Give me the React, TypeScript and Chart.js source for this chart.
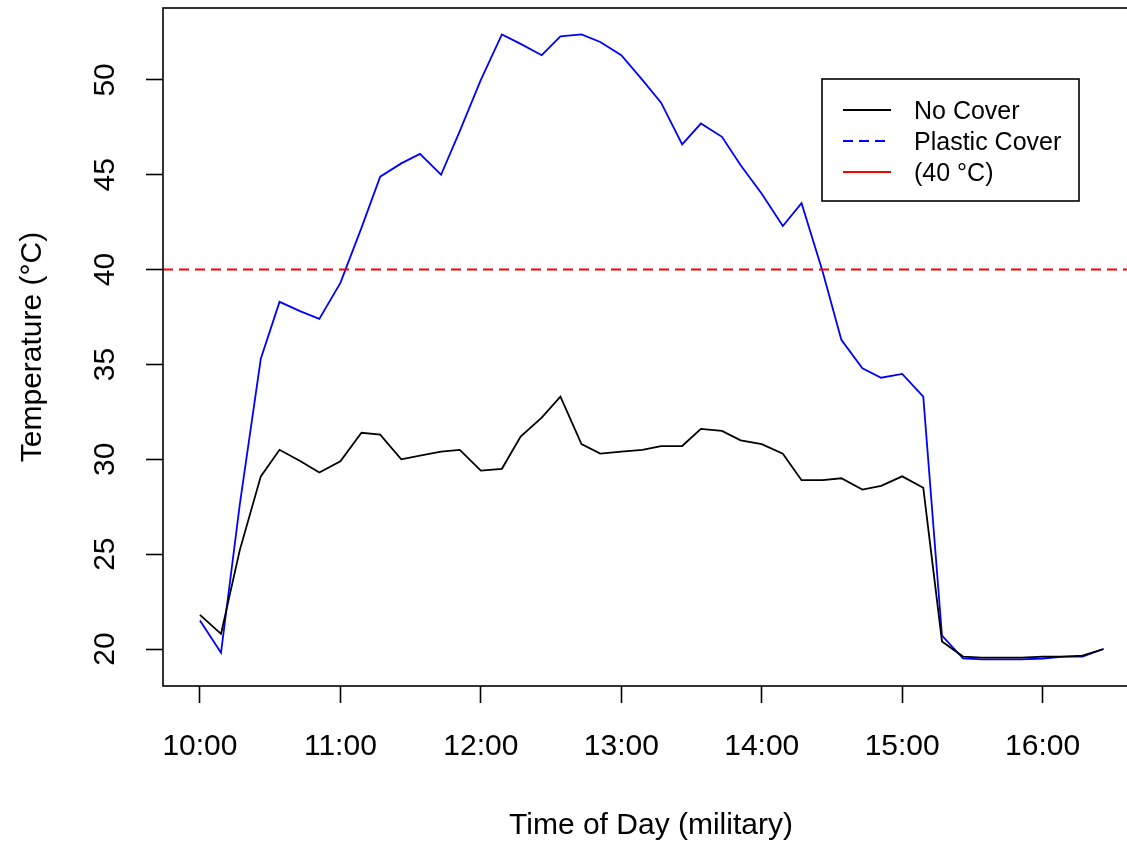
import React, { useEffect, useRef } from 'react';
import { Chart, registerables } from 'chart.js';

Chart.register(...registerables);

// ---- data ----
const TIMES = [
  '10:00', '10:09', '10:17', '10:26', '10:34', '10:43', '10:51',
  '11:00', '11:09', '11:17', '11:26', '11:34', '11:43', '11:51',
  '12:00', '12:09', '12:17', '12:26', '12:34', '12:43', '12:51',
  '13:00', '13:09', '13:17', '13:26', '13:34', '13:43', '13:51',
  '14:00', '14:09', '14:17', '14:26', '14:34', '14:43', '14:51',
  '15:00', '15:09', '15:17', '15:26', '15:34', '15:43', '15:51',
  '16:00', '16:09', '16:17', '16:26',
];

const NO_COVER = [
  21.8, 20.8, 25.2, 29.1, 30.5, 29.9, 29.3,
  29.9, 31.4, 31.3, 30.0, 30.2, 30.4, 30.5,
  29.4, 29.5, 31.2, 32.2, 33.3, 30.8, 30.3,
  30.4, 30.5, 30.7, 30.7, 31.6, 31.5, 31.0,
  30.8, 30.3, 28.9, 28.9, 29.0, 28.4, 28.6,
  29.1, 28.5, 20.4, 19.6, 19.55, 19.55, 19.55,
  19.6, 19.6, 19.65, 20.0,
];

const PLASTIC_COVER = [
  21.5, 19.8, 27.6, 35.3, 38.3, 37.8, 37.4,
  39.3, 42.2, 44.9, 45.6, 46.1, 45.0, 47.3,
  50.0, 52.4, 51.9, 51.3, 52.3, 52.4, 52.0,
  51.3, 50.0, 48.8, 46.6, 47.7, 47.0, 45.5,
  44.0, 42.3, 43.5, 39.9, 36.3, 34.8, 34.3,
  34.5, 33.3, 20.7, 19.5, 19.45, 19.45, 19.45,
  19.5, 19.6, 19.6, 20.0,
];

const THRESHOLD = 40;

const X_TICK_HOURS = [10, 11, 12, 13, 14, 15, 16];
const X_TICK_LABELS = ['10:00', '11:00', '12:00', '13:00', '14:00', '15:00', '16:00'];
const Y_TICKS = [20, 25, 30, 35, 40, 45, 50];

const X_MIN = 9.737;
const X_MAX = 16.686;
const Y_MIN = 18.05;
const Y_MAX = 53.79;

const SERIES_LABELS = ['No Cover', 'Plastic Cover', '(40 °C)'];
const SERIES_COLORS = ['#000000', '#0000FF', '#FF0000'];

// ---- layout ----
const CANVAS_W = 1150;
const CANVAS_H = 841;
const FONT = "'Liberation Sans', Arial, sans-serif";

const toHours = (t: string) => {
  const [h, m] = t.split(':').map(Number);
  return h + m / 60;
};

const framePlugin = {
  id: 'rFrame',
  afterDatasetsDraw(chart: any) {
    const { ctx, chartArea } = chart;
    const yScale = chart.scales.y;
    const yPix = yScale.getPixelForValue(THRESHOLD);
    ctx.save();
    ctx.strokeStyle = SERIES_COLORS[2];
    ctx.lineWidth = 2;
    ctx.setLineDash([10, 6]);
    ctx.beginPath();
    ctx.moveTo(chartArea.left, yPix);
    ctx.lineTo(chartArea.right, yPix);
    ctx.stroke();
    ctx.restore();
  },
  afterDraw(chart: any) {
    const { ctx, chartArea } = chart;
    ctx.save();
    // plot box
    ctx.strokeStyle = '#000';
    ctx.lineWidth = 1.6;
    ctx.setLineDash([]);
    ctx.strokeRect(chartArea.left, chartArea.top, chartArea.right - chartArea.left, chartArea.bottom - chartArea.top);

    // legend
    const bx = 822, by = 79, bw = 257, bh = 122;
    ctx.fillStyle = '#fff';
    ctx.fillRect(bx, by, bw, bh);
    ctx.strokeRect(bx, by, bw, bh);
    const rows = [110, 141, 172];
    const dashes = [[], [10, 6], []];
    ctx.font = `25px ${FONT}`;
    ctx.textBaseline = 'middle';
    ctx.textAlign = 'left';
    rows.forEach((ry, i) => {
      ctx.strokeStyle = SERIES_COLORS[i];
      ctx.lineWidth = 1.8;
      ctx.setLineDash(dashes[i]);
      ctx.beginPath();
      ctx.moveTo(843, ry);
      ctx.lineTo(891, ry);
      ctx.stroke();
      ctx.fillStyle = '#000';
      ctx.fillText(SERIES_LABELS[i], 914, ry + 2);
    });
    ctx.restore();
  },
};

export default function App() {
  const canvasRef = useRef<HTMLCanvasElement | null>(null);

  useEffect(() => {
    if (!canvasRef.current) return;
    const xs = TIMES.map(toHours);
    const chart = new Chart(canvasRef.current, {
      type: 'line',
      data: {
        datasets: [
          {
            label: SERIES_LABELS[0],
            data: xs.map((x, i) => ({ x, y: NO_COVER[i] })),
            borderColor: SERIES_COLORS[0],
            borderWidth: 1.8,
            pointRadius: 0,
            tension: 0,
            fill: false,
          },
          {
            label: SERIES_LABELS[1],
            data: xs.map((x, i) => ({ x, y: PLASTIC_COVER[i] })),
            borderColor: SERIES_COLORS[1],
            borderWidth: 1.8,
            pointRadius: 0,
            tension: 0,
            fill: false,
          },
        ],
      },
      options: {
        animation: false,
        responsive: false,
        maintainAspectRatio: false,
        devicePixelRatio: 1,
        layout: { padding: { left: 0, top: 8, right: CANVAS_W - 1139, bottom: 0 } },
        plugins: {
          legend: { display: false },
          tooltip: { enabled: false },
        },
        scales: {
          x: {
            type: 'linear',
            min: X_MIN,
            max: X_MAX,
            afterBuildTicks: (s: any) => {
              s.ticks = X_TICK_HOURS.map((v) => ({ value: v }));
            },
            afterFit: (s: any) => {
              s.height = CANVAS_H - 686;
              s.paddingLeft = 0;
              s.paddingRight = 0;
            },
            ticks: {
              autoSkip: false,
              maxRotation: 0,
              minRotation: 0,
              padding: 26,
              color: '#000',
              font: { family: FONT, size: 30 },
              callback: (_v: any, i: number) => X_TICK_LABELS[i],
            },
            grid: {
              display: true,
              drawOnChartArea: false,
              drawTicks: true,
              tickLength: 17,
              tickColor: '#000',
              tickWidth: 1.6,
            },
            border: { display: false },
            title: {
              display: true,
              text: 'Time of Day (military)',
              color: '#000',
              font: { family: FONT, size: 30, lineHeight: 1 },
              padding: { top: 0, bottom: 0 },
            },
          },
          y: {
            type: 'linear',
            min: Y_MIN,
            max: Y_MAX,
            afterBuildTicks: (s: any) => {
              s.ticks = Y_TICKS.map((v) => ({ value: v }));
            },
            afterFit: (s: any) => {
              s.width = 163;
              s.paddingTop = 0;
              s.paddingBottom = 0;
            },
            ticks: {
              autoSkip: false,
              minRotation: 90,
              maxRotation: 90,
              crossAlign: 'center',
              padding: 24,
              color: '#000',
              font: { family: FONT, size: 30 },
              callback: (v: any) => String(v),
            },
            grid: {
              display: true,
              drawOnChartArea: false,
              drawTicks: true,
              tickLength: 17,
              tickColor: '#000',
              tickWidth: 1.6,
            },
            border: { display: false },
            title: {
              display: true,
              text: 'Temperature (°C)',
              color: '#000',
              font: { family: FONT, size: 30 },
              padding: { top: 15, bottom: 0 },
            },
          },
        },
      } as any,
      plugins: [framePlugin],
    });
    return () => chart.destroy();
  }, []);

  return (
    <div
      style={{
        position: 'fixed',
        left: 0,
        top: 0,
        width: 1127,
        height: 841,
        overflow: 'hidden',
        background: '#fff',
      }}
    >
      <canvas ref={canvasRef} width={CANVAS_W} height={CANVAS_H} style={{ display: 'block' }} />
    </div>
  );
}
